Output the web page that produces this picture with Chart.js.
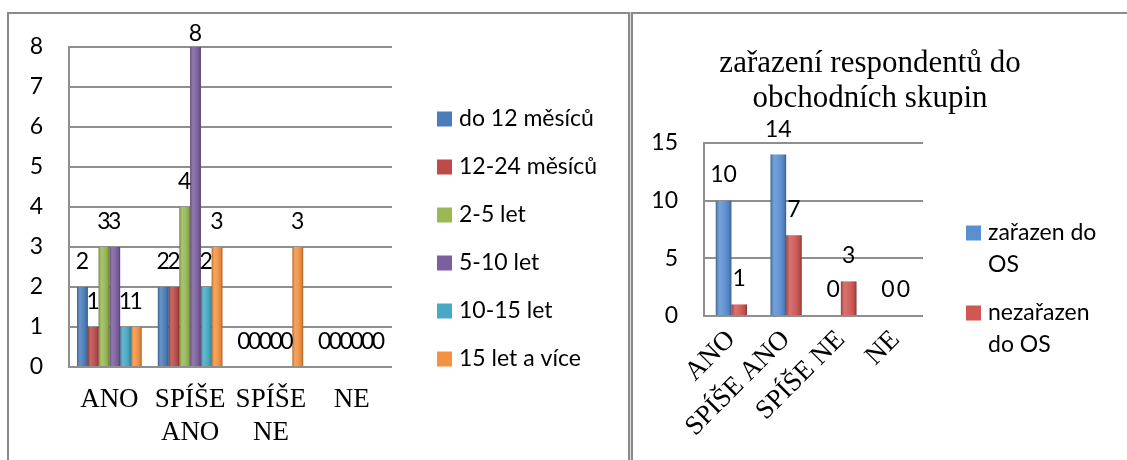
<!DOCTYPE html>
<html>
<head>
<meta charset="utf-8">
<script src="https://cdn.jsdelivr.net/npm/chart.js@4.4.1/dist/chart.umd.min.js"></script>
<style>
  html, body { margin: 0; padding: 0; background: #fff; width: 1127px; height: 460px; overflow: hidden; }
  body { position: relative; }
  .frame-top { position: absolute; left: 7px; top: 12px; width: 1120px; height: 2px; background: #8a8a8a; }
  .frame-left { position: absolute; left: 7px; top: 12px; width: 2px; height: 448px; background: #8a8a8a; }
  .divider { position: absolute; left: 628px; top: 12px; width: 5px; height: 448px;
    background: linear-gradient(to right, #8a8a8a 0, #8a8a8a 2px, #dcdcdc 2px, #dcdcdc 3px, #8a8a8a 3px, #8a8a8a 5px); }
  #ageChart { position: absolute; left: 10px; top: 15px; }
  #groupChart { position: absolute; left: 634px; top: 15px; }
</style>
</head>
<body>
<div class="frame-top"></div>
<div class="frame-left"></div>
<div class="divider"></div>
<canvas id="ageChart" width="617" height="445"></canvas>
<canvas id="groupChart" width="493" height="445"></canvas>

<script>
// ---- left chart: answers by length of cooperation ----
const ageCategories = [['ANO'], ['SPÍŠE', 'ANO'], ['SPÍŠE', 'NE'], ['NE']];
const ageSeriesNames = ['do 12 měsíců', '12-24 měsíců', '2-5 let', '5-10 let', '10-15 let', '15 let a více'];
const ageDo12 = [2, 2, 0, 0];
const age12to24 = [1, 2, 0, 0];
const age2to5 = [3, 4, 0, 0];
const age5to10 = [3, 8, 0, 0];
const age10to15 = [1, 2, 0, 0];
const age15plus = [1, 3, 3, 0];
const ageTicks = [0, 1, 2, 3, 4, 5, 6, 7, 8];
const ageColors = ['#4a7ebb', '#be4b48', '#98b954', '#7d5fa0', '#46aac5', '#f59240'];

// ---- right chart: inclusion into sales groups ----
const groupTitle = ['zařazení respondentů do', 'obchodních skupin'];
const groupCategories = ['ANO', 'SPÍŠE ANO', 'SPÍŠE NE', 'NE'];
const groupSeriesNames = [['zařazen do', 'OS'], ['nezařazen', 'do OS']];
const groupIncluded = [10, 14, 0, 0];
const groupExcluded = [1, 7, 3, 0];
const groupTicks = [0, 5, 10, 15];
const groupColors = ['#5a8fd2', '#d05754'];

const SANS = 'Lato, "Open Sans", sans-serif';
const SERIF = '"Liberation Serif", "DejaVu Serif", serif';

// cylinder-like shading laid over each bar
const barShading = {
  id: 'barShading',
  afterDatasetDraw(chart, args) {
    const ctx = chart.ctx;
    ctx.save();
    args.meta.data.forEach(bar => {
      const p = bar.getProps(['x', 'y', 'base', 'width'], true);
      const h = Math.abs(p.base - p.y);
      if (h < 0.5) return;
      const l = p.x - p.width / 2, r = p.x + p.width / 2;
      const g = ctx.createLinearGradient(l, 0, r, 0);
      g.addColorStop(0, 'rgba(0,0,0,0.30)');
      g.addColorStop(0.25, 'rgba(255,255,255,0.16)');
      g.addColorStop(0.5, 'rgba(255,255,255,0.08)');
      g.addColorStop(0.85, 'rgba(0,0,0,0.10)');
      g.addColorStop(1, 'rgba(0,0,0,0.35)');
      ctx.fillStyle = g;
      ctx.fillRect(l, Math.min(p.y, p.base), p.width, h);
    });
    ctx.restore();
  }
};

// value written above each bar
const barValueLabels = {
  id: 'barValueLabels',
  afterDatasetsDraw(chart, args, opts) {
    const ctx = chart.ctx;
    ctx.save();
    ctx.font = opts.font;
    ctx.fillStyle = '#000';
    ctx.textAlign = 'center';
    ctx.textBaseline = 'middle';
    chart.data.datasets.forEach((ds, i) => {
      chart.getDatasetMeta(i).data.forEach((bar, j) => {
        const y = Math.max(bar.y - opts.offset, chart.chartArea.top - opts.overflow);
        ctx.fillText(String(ds.data[j]), bar.x, y);
      });
    });
    ctx.restore();
  }
};

// legend placed to the right of the plot, supports wrapped names
const sideLegend = {
  id: 'sideLegend',
  afterDraw(chart, args, opts) {
    const ctx = chart.ctx;
    ctx.save();
    ctx.font = opts.font;
    ctx.textAlign = 'left';
    ctx.textBaseline = 'middle';
    let y = opts.y;
    chart.data.datasets.forEach((ds, i) => {
      const lines = [].concat(opts.names[i]);
      ctx.fillStyle = ds.backgroundColor;
      ctx.fillRect(opts.x, y - opts.box / 2, opts.box, opts.box);
      ctx.fillStyle = '#000';
      lines.forEach((t, k) => ctx.fillText(t, opts.x + opts.box + opts.gap, y + k * opts.lineHeight));
      y += opts.itemGap;
    });
    ctx.restore();
  }
};

// heading drawn line by line
const heading = {
  id: 'heading',
  afterDraw(chart, args, opts) {
    if (!opts.lines) return;
    const ctx = chart.ctx;
    ctx.save();
    ctx.font = opts.font;
    ctx.fillStyle = '#000';
    ctx.textAlign = 'center';
    ctx.textBaseline = 'alphabetic';
    opts.lines.forEach((t, k) => ctx.fillText(t, opts.x, opts.y + k * opts.lineHeight));
    ctx.restore();
  }
};

const gridGrey = '#8f8f8f';

// fixed axis width; plot height comes from the layout padding alone
function fixedYAxis(width) {
  return s => { s.width = width; s.paddingTop = 0; s.paddingBottom = 0; };
}

new Chart(document.getElementById('ageChart'), {
  type: 'bar',
  data: {
    labels: ageCategories,
    datasets: [ageDo12, age12to24, age2to5, age5to10, age10to15, age15plus].map((vals, i) => ({
      label: ageSeriesNames[i],
      data: vals,
      backgroundColor: ageColors[i],
      borderWidth: 0,
      categoryPercentage: 0.8,
      barPercentage: 1
    }))
  },
  options: {
    responsive: false,
    animation: false,
    layout: { padding: { left: 0, top: 32, right: 235, bottom: 0 } },
    plugins: {
      legend: { display: false },
      tooltip: { enabled: false },
      barValueLabels: { font: '23px ' + SANS, offset: 25, overflow: 13 },
      sideLegend: { names: ageSeriesNames, font: '23px ' + SANS, x: 427, y: 104, box: 15, gap: 7, itemGap: 48, lineHeight: 32 }
    },
    scales: {
      x: {
        grid: { display: false, drawTicks: false },
        border: { display: false },
        ticks: { font: { family: SERIF, size: 27 }, color: '#000', padding: 17, maxRotation: 0, autoSkip: false },
        afterFit(s) { s.height = 93; }
      },
      y: {
        min: ageTicks[0],
        max: ageTicks[ageTicks.length - 1],
        afterBuildTicks(s) { s.ticks = ageTicks.map(v => ({ value: v })); },
        ticks: { font: { family: SANS, size: 23 }, color: '#000', padding: 26 },
        grid: { color: gridGrey, lineWidth: 2, drawTicks: false },
        border: { display: true, color: gridGrey, width: 2 },
        afterFit: fixedYAxis(59)
      }
    }
  },
  plugins: [barShading, barValueLabels, sideLegend]
});

new Chart(document.getElementById('groupChart'), {
  type: 'bar',
  data: {
    labels: groupCategories,
    datasets: [groupIncluded, groupExcluded].map((vals, i) => ({
      label: groupSeriesNames[i].join(' '),
      data: vals,
      backgroundColor: groupColors[i],
      borderWidth: 0,
      categoryPercentage: 0.57,
      barPercentage: 1
    }))
  },
  options: {
    responsive: false,
    animation: false,
    layout: { padding: { left: 0, top: 128, right: 204, bottom: 0 } },
    plugins: {
      legend: { display: false },
      tooltip: { enabled: false },
      barValueLabels: { font: '23px ' + SANS, offset: 26, overflow: 13 },
      sideLegend: { names: groupSeriesNames, font: '23px ' + SANS, x: 332, y: 218, box: 15, gap: 7, itemGap: 80, lineHeight: 32 },
      heading: { lines: groupTitle, font: '31px ' + SERIF, x: 236, y: 57, lineHeight: 35 }
    },
    scales: {
      x: {
        grid: { display: false, drawTicks: false },
        border: { display: false },
        ticks: { font: { family: SERIF, size: 27 }, color: '#000', padding: 8, minRotation: 45, maxRotation: 45, autoSkip: false },
        afterFit(s) { s.height = 144; }
      },
      y: {
        min: groupTicks[0],
        max: groupTicks[groupTicks.length - 1],
        afterBuildTicks(s) { s.ticks = groupTicks.map(v => ({ value: v })); },
        ticks: { font: { family: SANS, size: 23 }, color: '#000', padding: 26 },
        grid: { color: gridGrey, lineWidth: 2, drawTicks: false },
        border: { display: true, color: gridGrey, width: 2 },
        afterFit: fixedYAxis(70)
      }
    }
  },
  plugins: [barShading, barValueLabels, sideLegend, heading]
});
</script>
</body>
</html>
